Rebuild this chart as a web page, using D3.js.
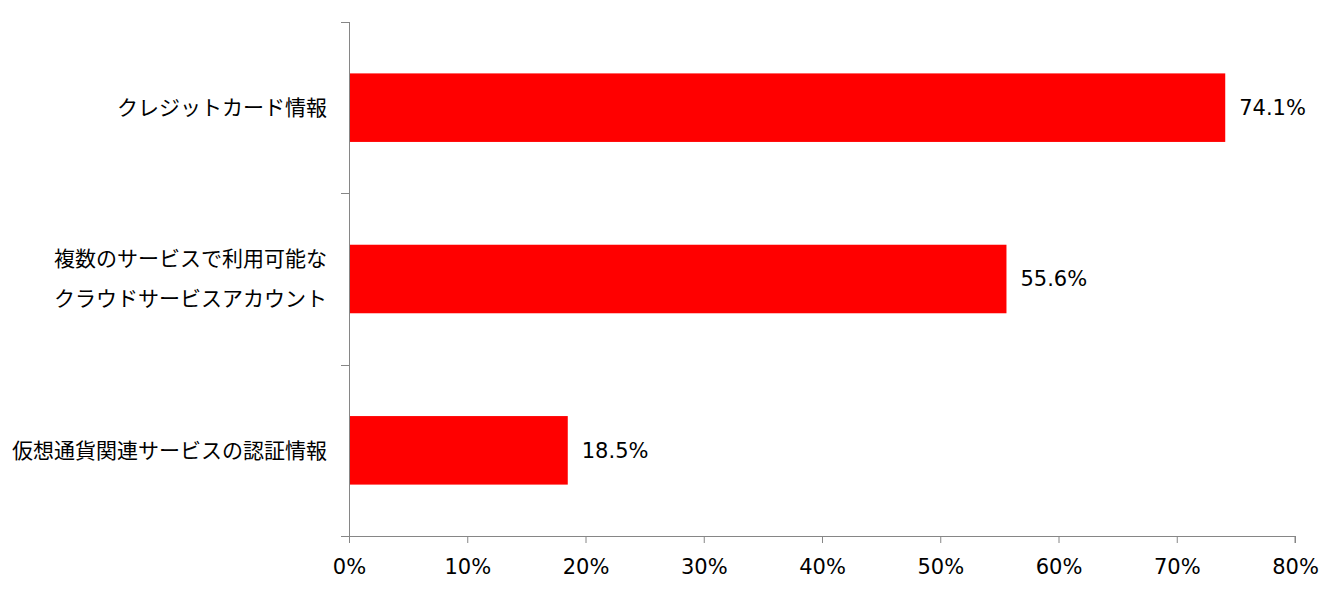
<!DOCTYPE html>
<html><head><meta charset="utf-8">
<script src="https://cdn.jsdelivr.net/npm/d3@7"></script>
<style>html,body{margin:0;padding:0;background:#fff;}svg{display:block;}</style>
</head><body>
<svg id="chart" width="1343" height="596"></svg>
<script>
const categories = [
  ["クレジットカード情報"],
  ["複数のサービスで利用可能な", "クラウドサービスアカウント"],
  ["仮想通貨関連サービスの認証情報"]
];
const values = [74.1, 55.6, 18.5];
const valueLabels = ["74.1%", "55.6%", "18.5%"];
const xTicks = [0, 10, 20, 30, 40, 50, 60, 70, 80];
const xTickLabels = ["0%", "10%", "20%", "30%", "40%", "50%", "60%", "70%", "80%"];

const svg = d3.select("#chart");
const mLeft = 349, mRight = 1295, mTop = 22, mBottom = 536;
const x = d3.scaleLinear().domain([0, 80]).range([mLeft, mRight]);
const y = d3.scaleBand().domain(d3.range(categories.length)).range([mTop, mBottom]).paddingInner(0).paddingOuter(0);
const barH = y.bandwidth() * 0.4;
const axisColor = "#868686";
const jpFont = "'Noto Sans CJK JP', 'Noto Sans', sans-serif";
const numFont = "'DejaVu Sans', Verdana, sans-serif";

// bars
svg.append("g").selectAll("rect").data(values).join("rect")
  .attr("x", x(0))
  .attr("y", (d, i) => y(i) + (y.bandwidth() - barH) / 2)
  .attr("width", d => x(d) - x(0))
  .attr("height", barH)
  .attr("fill", "#ff0000");

// value labels
svg.append("g").selectAll("text").data(values).join("text")
  .attr("x", d => x(d) + 14)
  .attr("y", (d, i) => y(i) + y.bandwidth() / 2)
  .attr("dy", "0.35em")
  .attr("font-family", numFont)
  .attr("font-size", 21)
  .attr("fill", "#000")
  .text((d, i) => valueLabels[i]);

// x axis
const xAxis = d3.axisBottom(x).tickValues(xTicks).tickSize(7)
  .tickFormat((d, i) => xTickLabels[i]);
const gx = svg.append("g").attr("transform", `translate(0,${mBottom})`).call(xAxis);
gx.select(".domain").attr("stroke", axisColor).attr("d", `M${mLeft},0.5H${mRight}V7`);
gx.selectAll(".tick line").attr("stroke", axisColor);
gx.selectAll(".tick text").attr("font-family", numFont).attr("font-size", 21)
  .attr("fill", "#000").attr("y", 38).attr("dy", "0");

// y axis
const yTickPositions = d3.range(categories.length + 1).map(i => mTop + i * y.step());
const gy = svg.append("g");
gy.append("line").attr("x1", mLeft + 0.5).attr("x2", mLeft + 0.5).attr("y1", mTop).attr("y2", mBottom)
  .attr("stroke", axisColor);
gy.selectAll("line.t").data(yTickPositions).join("line").attr("class", "t")
  .attr("x1", mLeft - 8).attr("x2", mLeft).attr("y1", d => Math.round(d) + 0.5).attr("y2", d => Math.round(d) + 0.5)
  .attr("stroke", axisColor);

// category labels
const lineGap = 40;
categories.forEach((lines, i) => {
  const cy = y(i) + y.bandwidth() / 2;
  lines.forEach((ln, j) => {
    svg.append("text")
      .attr("x", 327)
      .attr("y", cy + (j - (lines.length - 1) / 2) * lineGap)
      .attr("dy", "0.35em")
      .attr("text-anchor", "end")
      .attr("font-family", jpFont)
      .attr("font-size", 21)
      .attr("fill", "#000")
      .text(ln);
  });
});
</script>
</body></html>
